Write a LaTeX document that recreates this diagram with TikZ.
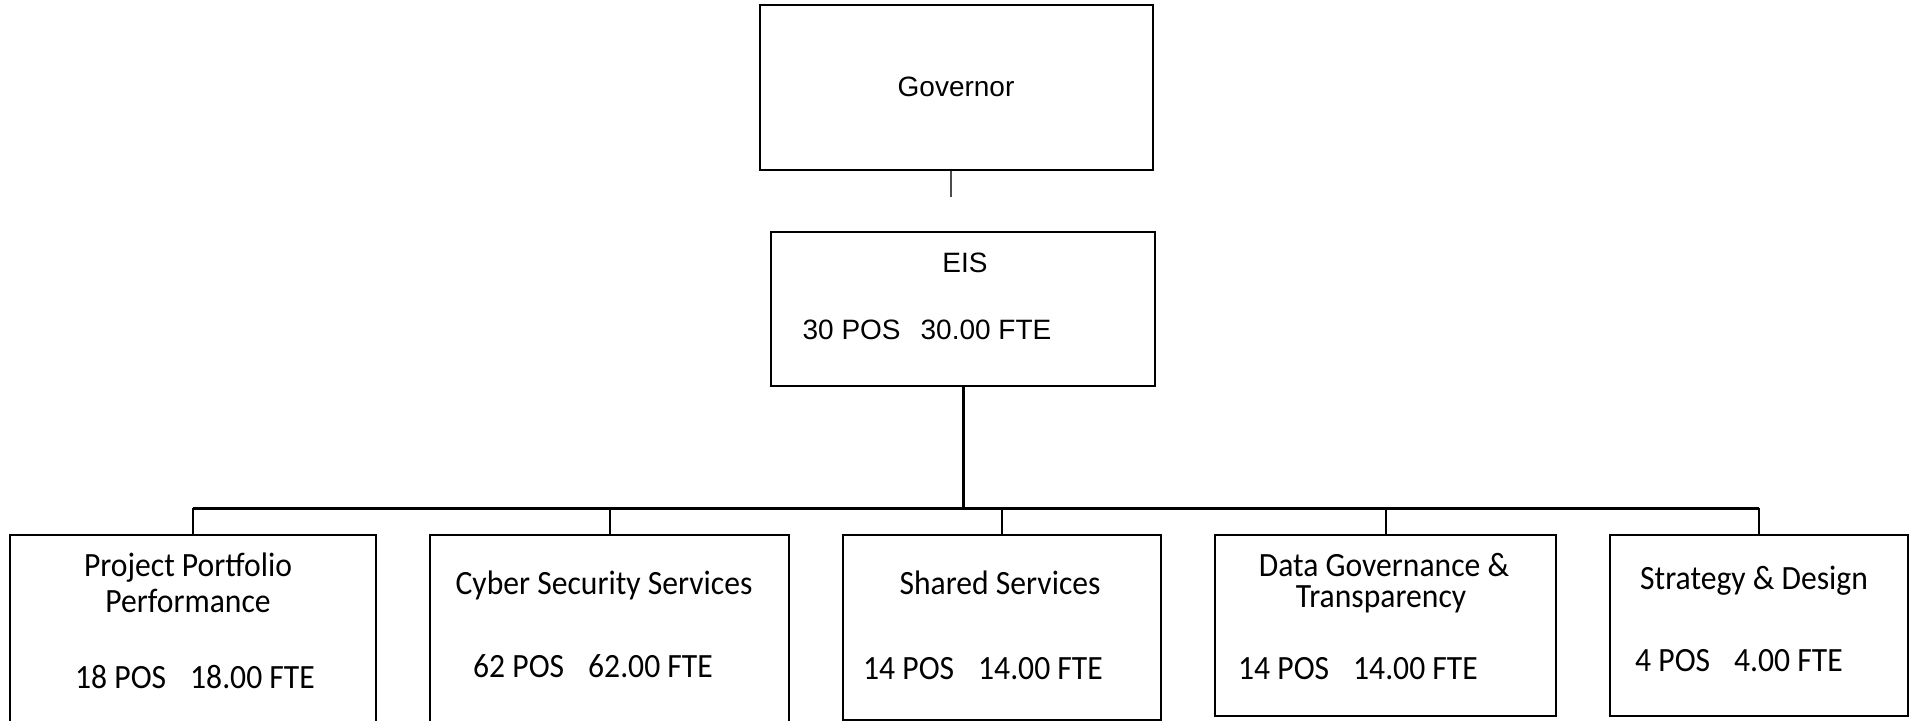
\documentclass[tikz,border=0pt]{standalone}
\usepackage{fontspec}
\setmainfont{Liberation Sans}
\newfontfamily\unitfont[FakeStretch=0.93]{Carlito}
\usetikzlibrary{fit}
\tikzset{
  orgbox/.style={draw=black, line width=1.1pt, inner sep=0pt, fill=white},
  toptext/.style={font=\fontsize{14}{16}\selectfont, inner sep=0pt},
  unittext/.style={font=\unitfont\fontsize{17}{19}\selectfont, inner sep=0pt, align=center},
  bus/.style={line width=1.5pt},
  stub/.style={line width=1pt},
  govstub/.style={line width=0.6pt, draw=black!70},
}
\begin{document}
\begin{tikzpicture}[x=0.5pt, y=-0.5pt]
\useasboundingbox (0,0) rectangle (1915,721);
% top levels
\node[orgbox, fit={(760,5) (1153,170)}] (gov) {};
\node[orgbox, fit={(771,232) (1155,386)}] (eis) {};
\node[toptext] (govlbl) at (956,87) {Governor};
\node[toptext] (eislbl) at (965,263) {EIS};
\node[toptext] (eisnum) at (927,330) {30 POS\hspace{10pt}30.00 FTE};
% units
\node[orgbox, fit={(10,535) (376,760)}] (u1) {};
\node[orgbox, fit={(430,535) (789,760)}] (u2) {};
\node[orgbox, fit={(843,535) (1161,720)}] (u3) {};
\node[orgbox, fit={(1215,535) (1556,716)}] (u4) {};
\node[orgbox, fit={(1610,535) (1908,716)}] (u5) {};
\node[unittext] (u1a) at (188,568) {Project Portfolio};
\node[unittext] (u1b) at (188,601) {Performance};
\node[unittext] (u1n) at (195,677) {18 POS\hspace{12pt}18.00 FTE};
\node[unittext] (u2a) at (604,585) {Cyber Security Services};
\node[unittext] (u2n) at (593,666) {62 POS\hspace{12pt}62.00 FTE};
\node[unittext] (u3a) at (1000,583) {Shared Services};
\node[unittext] (u3n) at (983,669) {14 POS\hspace{12pt}14.00 FTE};
\node[unittext] (u4a) at (1384,565) {Data Governance \&};
\node[unittext] (u4b) at (1381,599) {Transparency};
\node[unittext] (u4n) at (1358,669) {14 POS\hspace{12pt}14.00 FTE};
\node[unittext] (u5a) at (1754,581) {Strategy \& Design};
\node[unittext] (u5n) at (1739,661) {4 POS\hspace{12pt}4.00 FTE};
% connectors
\coordinate (govend) at (951,197);
\coordinate (busy) at (963,508);
\draw[govstub] (gov.south -| govend) -- (govend);
\draw[bus] (eis.south) -- (busy);
\draw[bus] (u1.north |- busy) -- (u5.north |- busy);
\foreach \u in {u1,u2,u3,u4,u5}
  \draw[stub] (\u.north) -- (\u.north |- busy);
\end{tikzpicture}
\end{document}
